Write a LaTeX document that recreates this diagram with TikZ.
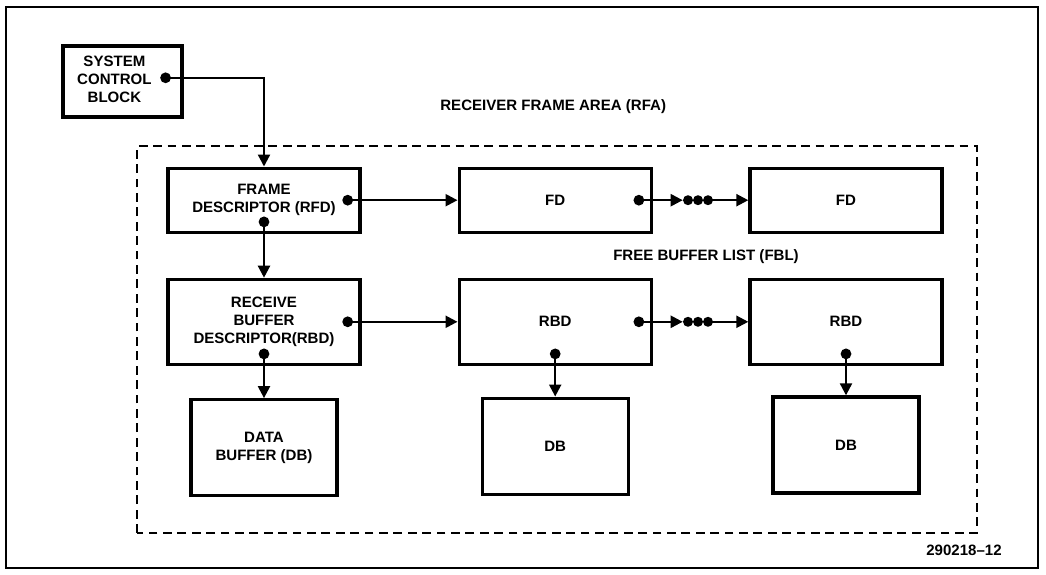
\documentclass[tikz,border=0pt]{standalone}
\usepackage{fontspec}
\setmainfont{Liberation Sans}
\usetikzlibrary{arrows.meta}
\begin{document}
\begin{tikzpicture}[
  lettering/.style={font=\bfseries\fontsize{10.7}{12.8}\selectfont},
  box/.style={draw, line width=2.4pt, align=center, lettering},
  topbox/.style={box, minimum width=4.8cm, minimum height=1.6cm},
  midbox/.style={box, minimum width=4.8cm, minimum height=2.12cm},
  databox/.style={box, minimum width=3.65cm, minimum height=2.4cm},
  link/.style={line width=1.6pt, -{Triangle[length=0.3cm,width=0.3cm]}},
  dot/.style={circle, fill, inner sep=0pt, minimum size=0.27cm}
]
\useasboundingbox (0,0) rectangle (26.15,14.375);
\draw [line width=1pt] (0.15,0.175) rectangle (25.95,14.2);
\draw [line width=2pt, dash pattern=on 0.22cm off 0.14cm] (3.425,1.05) rectangle (24.425,10.725);
\node [box, minimum width=2.975cm, minimum height=1.775cm] (scb) at (3.06,12.34) {\begin{tabular}{@{}c@{}}SYSTEM\\CONTROL\\BLOCK\end{tabular}\kern0.4cm};
\node [topbox] (rfd) at (6.6,9.37) {FRAME\\DESCRIPTOR (RFD)};
\node [topbox] (fd1) at (13.88,9.37) {FD};
\node [topbox] (fd2) at (21.15,9.37) {FD};
\node [midbox] (rbd0) at (6.6,6.33) {RECEIVE\\BUFFER\\DESCRIPTOR(RBD)};
\node [midbox] (rbd1) at (13.88,6.33) {RBD};
\node [midbox] (rbd2) at (21.15,6.33) {RBD};
\node [databox] (db0) at (6.6,3.18) {DATA\\BUFFER (DB)};
\node [databox] (db1) at (13.88,3.22) {DB};
\node [databox] (db2) at (21.15,3.25) {DB};
\node [lettering] (rfa) at (13.83,11.7) {RECEIVER FRAME AREA (RFA)};
\node [lettering] (fbl) at (17.65,7.95) {FREE BUFFER LIST (FBL)};
\node [lettering] (fig) at (24.1,0.625) {290218--12};
\node [dot] (scbR) at ([shift={(-0.45,0.09)}]scb.east) {};
\draw [link] (scbR.center) -| (rfd.north);
\node [dot] (rfdR) at ([xshift=-0.35cm]rfd.east) {};
\node [dot] (rfdB) at ([yshift=0.3cm]rfd.south) {};
\draw [link] (rfdR.center) -- (fd1.west);
\draw [link] (rfdB.center) -- (rbd0.north);
\node [dot] (rbd0R) at ([xshift=-0.35cm]rbd0.east) {};
\draw [link] (rbd0R.center) -- (rbd1.west);
\foreach \row/\y in {fd/9.37,rbd/6.33} {
  \node [dot] (\row-R) at ([xshift=-0.35cm]\row1.east) {};
  \foreach \x [count=\i] in {17.2,17.45,17.7}
    \node [dot, minimum size=0.25cm] (\row-dot\i) at (\x,\y) {};
  \draw [link] (\row-R.center) -- (\row-dot1.west);
  \draw [link] (\row-dot3.center) -- (\row2.west);
}
\foreach \i in {0,1,2} {
  \node [dot] (rbd\i B) at ([yshift=0.3cm]rbd\i.south) {};
  \draw [link] (rbd\i B.center) -- (db\i.north);
}
\end{tikzpicture}
\end{document}
